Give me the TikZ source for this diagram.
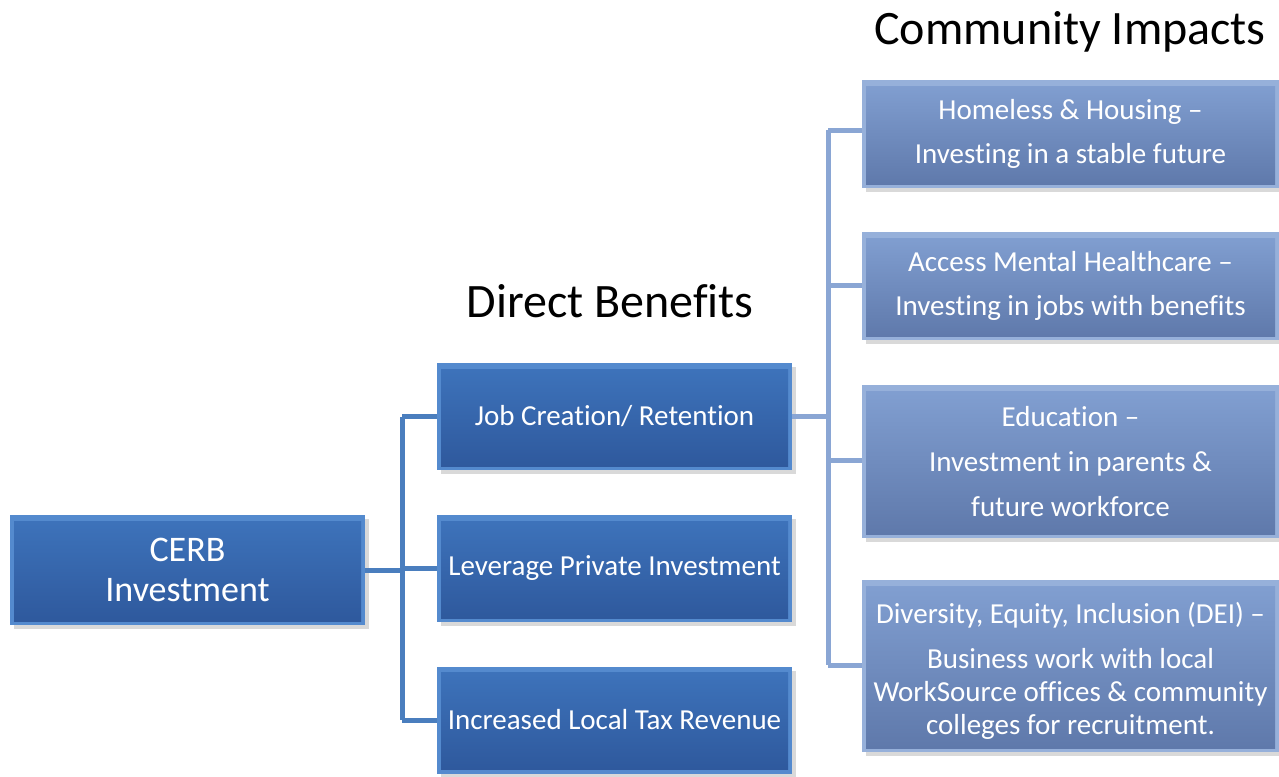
\documentclass[tikz,border=0pt]{standalone}
\usepackage{fontspec}
\setmainfont{Carlito}[RawFeature={-liga;-calt}]
\usetikzlibrary{shadows}

\definecolor{cerbedge}{RGB}{84,138,206}
\definecolor{cerbtop}{RGB}{62,116,188}
\definecolor{cerbbot}{RGB}{46,88,156}
\definecolor{impedge}{RGB}{150,176,218}
\definecolor{imptop}{RGB}{130,160,210}
\definecolor{impbot}{RGB}{94,120,170}
\definecolor{busleft}{RGB}{74,126,190}
\definecolor{busright}{RGB}{138,166,212}

\tikzset{
  bevel/.style n args={3}{fill=#1, drop shadow={opacity=0.3,shadow xshift=2pt,shadow yshift=-2pt},
    path picture={\shade[top color=#2,bottom color=#3]
      ([shift={(2pt,-3pt)}]path picture bounding box.north west) rectangle
      ([shift={(-2pt,2pt)}]path picture bounding box.south east);}},
  benefit/.style={bevel={cerbedge}{cerbtop}{cerbbot}, text=white, inner sep=0pt,
    minimum width=177.5pt, minimum height=53.5pt, font=\fontsize{14.5}{17}\selectfont},
  impact/.style={bevel={impedge}{imptop}{impbot}, text=white, inner sep=0pt, align=center,
    minimum width=208.5pt, font=\fontsize{14.5}{22.3}\selectfont},
  title/.style={font=\fontsize{24}{28}\selectfont},
  bus/.style={line width=2.5pt}
}

\begin{document}
\begin{tikzpicture}[x=0.5pt,y=-0.5pt]
\useasboundingbox (0,0) rectangle (1279,776);

% titles
\node[title] (dbtitle) at (610,301) {Direct Benefits};
\node[title] (cititle) at (1070,32) {Community Impacts};

% investment and direct benefits
\node[benefit, minimum height=55pt, align=center, font=\fontsize{18}{20}\selectfont] (cerb) at (187.5,570) {CERB\\Investment};
\node[benefit] (job) at (614.5,416.5) {Job Creation/ Retention};
\node[benefit] (lev) at (614.5,568.5) {Leverage Private Investment};
\node[benefit] (tax) at (614.5,720) {Increased Local Tax Revenue};

% community impacts
\node[impact, minimum height=54pt] (home) at (1070.5,134) {Homeless \& Housing --\\Investing in a stable future};
\node[impact, minimum height=54pt] (ment) at (1070.5,286) {Access Mental Healthcare --\\Investing in jobs with benefits};
\node[impact, minimum height=76.5pt] (edu) at (1070.5,461.5) {Education --\\Investment in parents \&\\future workforce};
\node[impact, minimum height=86pt, font=\fontsize{14.5}{16.5}\selectfont] (dei) at (1070.5,666) {\rule{0pt}{15pt}Diversity, Equity, Inclusion (DEI) --\\[6pt]Business work with local\\WorkSource offices \& community\\colleges for recruitment.};

% connectors
\draw[bus, busleft] (cerb.east) -- (402,570) coordinate (b1);
\draw[bus, busleft] (b1 |- job.west) -- (b1 |- tax.west);
\foreach \n in {job,lev,tax}
  \draw[bus, busleft] (b1 |- \n.west) -- (\n.west);
\draw[bus, busright] (job.east) -- (828,416.5) coordinate (b2);
\draw[bus, busright] (b2 |- 0,130) -- (b2 |- 0,665);
\foreach \n/\y in {home/130,ment/285,edu/460,dei/665}
  \draw[bus, busright] (b2 |- 0,\y) -- (\n.west |- 0,\y);
\end{tikzpicture}
\end{document}
